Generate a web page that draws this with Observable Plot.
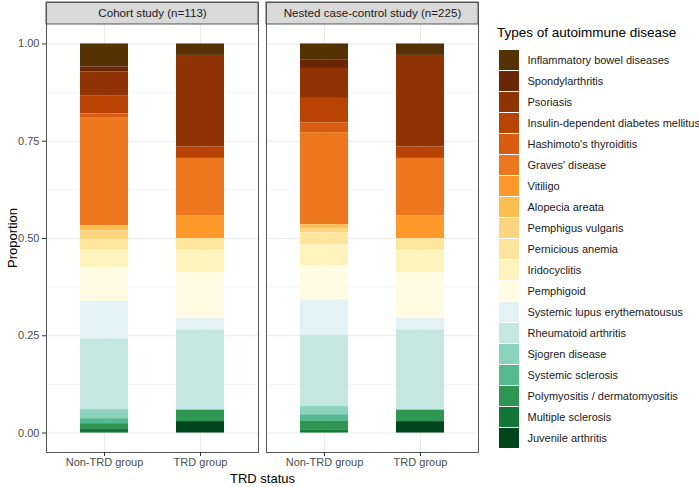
<!DOCTYPE html>
<html><head><meta charset="utf-8">
<script src="https://cdn.jsdelivr.net/npm/d3@7"></script>
<script src="https://cdn.jsdelivr.net/npm/@observablehq/plot@0.6"></script>
<style>
body{margin:0;background:#fff;font-family:"Liberation Sans",Arial,sans-serif;}
#wrap{position:relative;width:699px;height:487px;overflow:hidden;}
#chart,#legend{position:absolute;top:0;}
#chart{left:0;}
#legend{left:490px;}
.lbl{position:absolute;white-space:nowrap;color:#000;font-size:13px;line-height:15px;}
</style></head><body><div id="wrap"><div id="chart"></div><div id="legend"></div></div>
<script>
// ---- data ----
const studies = ["Cohort study (n=113)", "Nested case-control study (n=225)"];
const groups = ["Non-TRD group", "TRD group"];
const diseases = ["Inflammatory bowel diseases","Spondylarthritis","Psoriasis","Insulin-dependent diabetes mellitus","Hashimoto's thyroiditis","Graves' disease","Vitiligo","Alopecia areata","Pemphigus vulgaris","Pernicious anemia","Iridocyclitis","Pemphigoid","Systemic lupus erythematousus","Rheumatoid arthritis","Sjogren disease","Systemic sclerosis","Polymyositis / dermatomyositis","Multiple sclerosis","Juvenile arthritis"];
const colors = ["#553203","#6A2707","#8F3304","#B94303","#D75B10","#EC771E","#FD982A","#FDBD4F","#FED47E","#FEE59E","#FFF4BE","#FFFCE3","#E3F2F7","#C4E7DF","#8BD2BD","#55B88E","#2F9553","#117638","#00441B"];
// proportions, same order as diseases
const cohortNonTRD = [0.059,0.013,0.061,0.047,0.011,0.276,0,0.013,0.023,0.026,0.047,0.086,0.096,0.182,0.023,0.013,0.013,0.011,0];
const cohortTRD    = [0.0294,0,0.2353,0.0294,0,0.1471,0.0588,0,0,0.0294,0.0588,0.1176,0.0294,0.2059,0,0,0.0294,0,0.0294];
const nestedNonTRD = [0.042,0.021,0.077,0.063,0.025,0.237,0,0.009,0.011,0.032,0.053,0.088,0.092,0.182,0.021,0.017,0.023,0.007,0];
const nestedTRD    = [0.0294,0,0.2353,0.0294,0,0.1471,0.0588,0,0,0.0294,0.0588,0.1176,0.0294,0.2059,0,0,0.0294,0,0.0294];
const yTicks = [0, 0.25, 0.5, 0.75, 1];
const yMinor = [0.125, 0.375, 0.625, 0.875];

const series = [
  [studies[0], groups[0], cohortNonTRD],
  [studies[0], groups[1], cohortTRD],
  [studies[1], groups[0], nestedNonTRD],
  [studies[1], groups[1], nestedTRD]
];
const rows = [];
for (const [study, group, vals] of series) {
  vals.forEach((v, i) => { if (v > 0) rows.push({study, group, disease: diseases[i], value: v}); });
}
const stackOrder = diseases.slice().reverse();

const FONT = "Liberation Sans, Arial, sans-serif";
const Y_TOP = 1.1065;              // expanded domain incl. strip band
const STRIP_LO = 1.05;
const STRIP_MID = (STRIP_LO + Y_TOP) / 2;

const chart = Plot.plot({
  width: 490, height: 487,
  marginLeft: 46, marginRight: 11, marginTop: 2, marginBottom: 35,
  style: {fontFamily: FONT, background: "white", overflow: "visible"},
  fx: {domain: studies, axis: null, paddingInner: 0.036, paddingOuter: 0},
  x: {domain: groups, paddingInner: 0.5, paddingOuter: 0.35},
  y: {domain: [-0.05, Y_TOP]},
  color: {domain: diseases, range: colors},
  marks: [
    Plot.gridY({ticks: yMinor, stroke: "#EEEEEE", strokeOpacity: 1, strokeWidth: 0.6}),
    Plot.gridY({ticks: yTicks, stroke: "#EBEBEB", strokeOpacity: 1, strokeWidth: 1.1}),
    Plot.gridX({stroke: "#EBEBEB", strokeOpacity: 1, strokeWidth: 1.1}),
    Plot.barY(rows, Plot.stackY({fx: "study", x: "group", y: "value", fill: "disease", order: stackOrder})),
    Plot.rect(studies, {fx: d => d, y1: () => STRIP_LO, y2: () => Y_TOP, fill: "#D9D9D9", stroke: "#555", strokeWidth: 1}),
    Plot.frame({stroke: "#555", strokeWidth: 1}),
    Plot.text(studies, {fx: d => d, y: () => STRIP_MID, text: d => d, fontSize: 11.6, fill: "#1A1A1A"}),
    Plot.axisY({ticks: yTicks, tickFormat: d3.format(".2f"), tickSize: 4, tickPadding: 3, fontSize: 11, stroke: "#333", fill: "#4D4D4D", label: null}),
    Plot.axisX({tickSize: 4, tickPadding: 2, fontSize: 11, stroke: "#333", fill: "#4D4D4D", label: null})
  ]
});
document.getElementById("chart").appendChild(chart);

const legend = Plot.plot({
  width: 209, height: 487,
  marginLeft: 9, marginRight: 0, marginTop: 0, marginBottom: 0,
  style: {fontFamily: FONT, background: "transparent", overflow: "visible"},
  x: {domain: ["swatch"], range: [9, 29], padding: 0, axis: null},
  y: {domain: diseases, range: [44.3, 453], paddingInner: 0.07, paddingOuter: 0.035, axis: null},
  color: {domain: diseases, range: colors},
  marks: [
    Plot.cell(diseases, {x: () => "swatch", y: d => d, fill: d => d}),
    Plot.text(diseases, {y: d => d, text: d => d, frameAnchor: "left", dx: 28, textAnchor: "start", fontSize: 11, fill: "#1A1A1A"})
  ]
});
document.getElementById("legend").appendChild(legend);

const wrap = document.getElementById("wrap");
function addLabel(text, css) {
  const d = document.createElement("div");
  d.className = "lbl";
  d.textContent = text;
  Object.assign(d.style, css);
  wrap.appendChild(d);
}
addLabel("Types of autoimmune disease", {left: "497px", top: "25px", fontSize: "13.5px"});
addLabel("Proportion", {left: "12px", top: "238px", transform: "translate(-50%,-50%) rotate(-90deg)"});
addLabel("TRD status", {left: "262.5px", top: "478px", transform: "translate(-50%,-50%)"});
</script></body></html>
